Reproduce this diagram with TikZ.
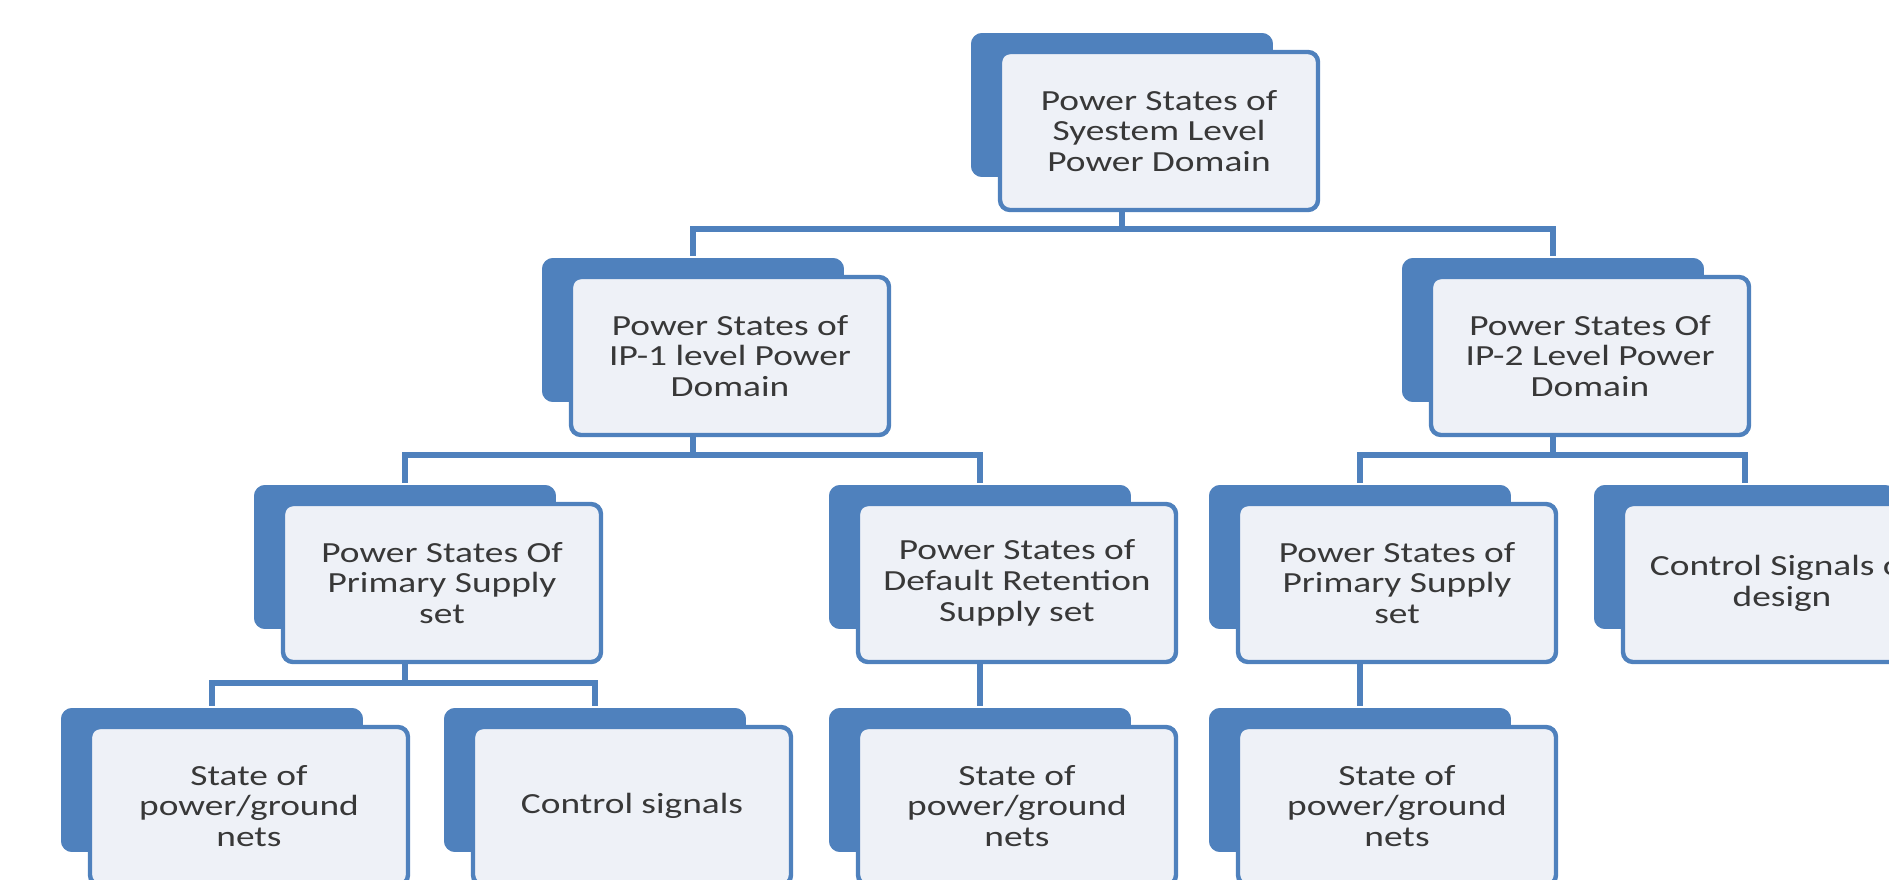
\documentclass[tikz,border=0pt]{standalone}
\usepackage{fontspec}
\setmainfont{Carlito}[FakeStretch=1.28]
\usetikzlibrary{calc, positioning}
\definecolor{boxblue}{HTML}{4F81BD}
\definecolor{boxfill}{HTML}{EEF1F7}
\definecolor{boxtext}{HTML}{383838}

\tikzset{
	backbox/.style={rectangle, rounded corners=6pt, fill=boxblue, draw=white, line width=0.8pt,
		minimum width=152pt, minimum height=73pt},
	frontbox/.style={rectangle, rounded corners=5pt, fill=boxfill, draw=boxblue, line width=2.2pt,
		minimum width=159pt, minimum height=79pt, align=center, text=boxtext,
		font=\fontsize{14.6}{15.4}\selectfont},
	link/.style={draw=boxblue, line width=2.6pt},
}

\begin{document}
\begin{tikzpicture}[x=0.5pt, y=-0.5pt]
		\useasboundingbox (0,0) rectangle (1889,879);
		\def\dx{37}
		\def\dy{26}
		\def\boxes{top/1122/105/{Power States of\\Syestem Level\\Power Domain},
			ipone/693/330/{Power States of\\IP-1 level Power\\Domain},
			iptwo/1553/330/{Power States Of\\IP-2 Level Power\\Domain},
			prima/405/557/{Power States Of\\Primary Supply\\set},
			retn/980/557/{Power States of\\Default Retention\\Supply set},
			primb/1360/557/{Power States of\\Primary Supply\\set},
			ctrlb/1745/557/{Control Signals of\\design},
			neta/212/780/{State of\\power/ground\\nets},
			ctrla/595/780/{Control signals},
			netb/980/780/{State of\\power/ground\\nets},
			netc/1360/780/{State of\\power/ground\\nets}}
		
		% draw back boxes
		\foreach \n/\x/\y/\t in \boxes {
			\node[backbox] (\n b) at (\x,\y) {};
		}
		
		% bus lines
		\coordinate (busone) at (0,229);
		\coordinate (bustwo) at (0,455);
		\coordinate (busthree) at (0,683);
		\draw[link] (topb.center) -- (topb |- busone) -| (iponeb.north)
			(topb |- busone) -| (iptwob.north);
		\draw[link] (iponeb.center) -- (iponeb |- bustwo) -| (primab.north)
			(iponeb |- bustwo) -| (retnb.north);
		\draw[link] (iptwob.center) -- (iptwob |- bustwo) -| (primbb.north)
			(iptwob |- bustwo) -| (ctrlbb.north);
		\draw[link] (primab.center) -- (primab |- busthree) -| (netab.north)
			(primab |- busthree) -| (ctrlab.north);
		\draw[link] (retnb.center) -- (netbb.north);
		\draw[link] (primbb.center) -- (netcb.north);
		
		% draw front boxes
		\foreach \n/\x/\y/\t in \boxes {
			\node[frontbox] (\n) at ([shift={(\dx,\dy)}]\n b.center) {\t};
		}
\end{tikzpicture}
\end{document}
